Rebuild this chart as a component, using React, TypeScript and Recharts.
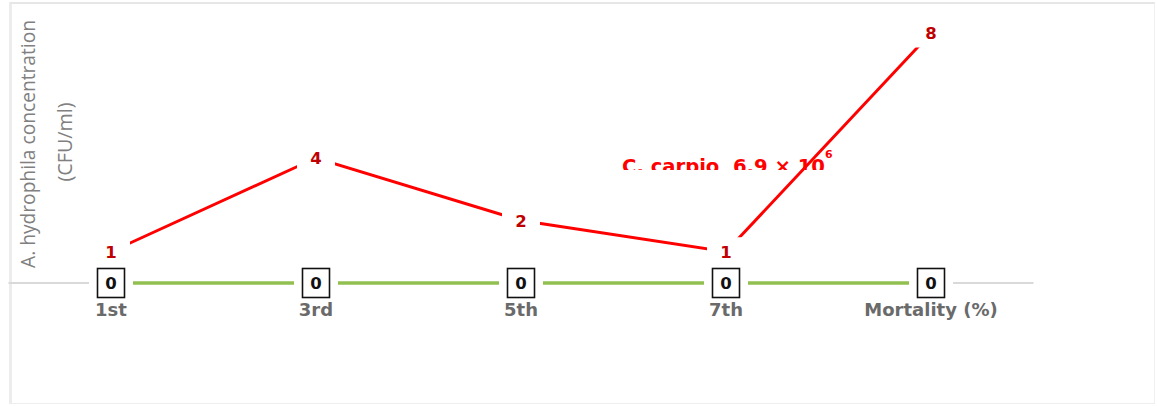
import React from 'react';
import { LineChart, Line, XAxis, YAxis, LabelList, Customized } from 'recharts';

const categories = ['1st', '3rd', '5th', '7th', 'Mortality (%)'];
const carpioValues = [1, 4, 2, 1, 8];
const controlValues = [0, 0, 0, 0, 0];
const yAxisTitle = ['A. hydrophila concentration', '(CFU/ml)'];
const annotationText = 'C. carpio  6.9 \u00d7 10';
const annotationSup = '6';

const data = categories.map((c, i) => ({ cat: c, carpio: carpioValues[i], control: controlValues[i] }));

const RedLabel = (props: any) => {
  const { x, y, value } = props;
  return (
    <g>
      <rect x={x - 19} y={y - 14.5} width={38} height={29} fill="#ffffff" />
      <text x={x} y={y} dy={6} textAnchor="middle" fill="#c00000" fontFamily="DejaVu Sans" fontWeight="bold" fontSize={16.5}>
        {value}
      </text>
    </g>
  );
};

const GreenLabel = (props: any) => {
  const { x, y, value } = props;
  return (
    <g>
      <rect x={x - 22} y={y - 15} width={44} height={30} fill="#ffffff" />
      <rect x={x - 13.5} y={y - 14.5} width={27} height={29} fill="#ffffff" stroke="#111111" strokeWidth={1.6} />
      <text x={x} y={y} dy={6} textAnchor="middle" fill="#111111" fontFamily="DejaVu Sans" fontWeight="bold" fontSize={16.5}>
        {value}
      </text>
    </g>
  );
};

const Tick = (props: any) => {
  const { x, y, payload } = props;
  return (
    <text x={x} y={y} dy={33} textAnchor="middle" fill="#6a6a6a" fontFamily="DejaVu Sans" fontWeight="bold" fontSize={18}>
      {payload.value}
    </text>
  );
};

const Decorations = () => (
  <g>
    <defs>
      <clipPath id="annClip">
        <rect x={600} y={140} width={260} height={30} />
      </clipPath>
    </defs>
    <line x1={8.5} x2={1033.5} y1={283} y2={283} stroke="#d9d9d9" strokeWidth={2} />
    <text transform="translate(35,144) rotate(-90)" textAnchor="middle" fill="#808080" fontFamily="Open Sans" fontSize={20} textLength={248} lengthAdjust="spacingAndGlyphs">
      {yAxisTitle[0]}
    </text>
    <text transform="translate(72,142) rotate(-90)" textAnchor="middle" fill="#808080" fontFamily="Open Sans" fontSize={20} textLength={79} lengthAdjust="spacingAndGlyphs">
      {yAxisTitle[1]}
    </text>
    <g clipPath="url(#annClip)">
      <text x={622} y={173} fill="#ff0000" fontFamily="DejaVu Sans" fontWeight="bold" fontSize={19} textLength={203} lengthAdjust="spacingAndGlyphs" xmlSpace="preserve">
        {annotationText}
      </text>
    </g>
    <text x={825} y={158} fill="#ff0000" fontFamily="DejaVu Sans" fontWeight="bold" fontSize={11}>
      {annotationSup}
    </text>
  </g>
);

export default function App() {
  return (
    <div style={{ position: 'absolute', left: 0, top: 0, width: 1157, height: 406, background: '#ffffff' }}>
      <div style={{ position: 'absolute', left: 9, top: 2, width: 1146, height: 402, borderTop: '2px solid #e6e6e6', borderLeft: '3px solid #ececec', borderRight: '1px solid #f0f0f0', borderBottom: '1px solid #eeeeee', boxSizing: 'border-box' }} />
      <div style={{ position: 'absolute', left: 0, top: 0 }}>
        <LineChart width={1157} height={406} data={data} margin={{ top: 33, right: 123.5, left: 8.5, bottom: 93 }}>
          <XAxis
            dataKey="cat"
            height={30}
            padding={{ left: 102.5, right: 102.5 }}
            axisLine={false}
            tickLine={false}
            tickSize={0}
            tickMargin={0}
            tick={<Tick />}
            interval={0}
          />
          <YAxis hide domain={[0, 8]} />
          <Customized component={Decorations} />
          <Line dataKey="control" stroke="#92c050" strokeWidth={3.5} dot={false} isAnimationActive={false}>
            <LabelList dataKey="control" content={<GreenLabel />} />
          </Line>
          <Line dataKey="carpio" stroke="#ff0000" strokeWidth={3} dot={false} isAnimationActive={false}>
            <LabelList dataKey="carpio" content={<RedLabel />} />
          </Line>
        </LineChart>
      </div>
    </div>
  );
}
